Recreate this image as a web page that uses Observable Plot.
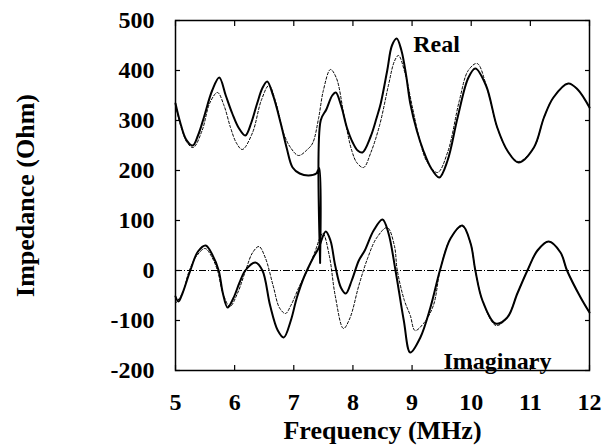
<!DOCTYPE html>
<html>
<head>
<meta charset="utf-8">
<script src="https://cdn.jsdelivr.net/npm/d3@7"></script>
<script src="https://cdn.jsdelivr.net/npm/@observablehq/plot@0.6"></script>
<style>
  html, body { margin: 0; padding: 0; background: #fff; }
  svg { display: block; }
</style>
</head>
<body>
<div id="chart"></div>
<script>
// ---- Data ----
const realSolidF = [5.0,5.08,5.18,5.29,5.38,5.48,5.62,5.74,5.85,5.96,6.07,6.18,6.28,6.38,6.47,6.55,6.65,6.78,6.88,6.98,7.1,7.25,7.38,7.43,7.445,7.455,7.55,7.65,7.71,7.8,7.9,8.0,8.08,8.16,8.3,8.4,8.47,8.58,8.66,8.74,8.82,8.9,8.97,9.08,9.19,9.32,9.46,9.6,9.77,9.95,10.07,10.25,10.44,10.62,10.8,11.06,11.23,11.39,11.64,11.8,12.0];
const realSolidV = [334,296,262,250,270,306,360,386,350,314,285,270,295,334,365,378,350,294,245,206,194,190,194,205,15,300,322,350,356,330,285,255,240,236,268,305,334,400,450,464,440,390,334,280,240,205,186,220,306,385,404,370,286,238,216,246,306,346,374,362,326];

const realDashF = [5.0,5.1,5.2,5.3,5.45,5.58,5.71,5.82,5.93,6.03,6.13,6.3,6.45,6.58,6.7,6.83,6.95,7.08,7.23,7.32,7.42,7.5,7.62,7.72,7.85,7.98,8.07,8.18,8.3,8.45,8.6,8.7,8.77,8.88,9.0,9.12,9.25,9.43,9.6,9.8,9.95,10.1,10.25,10.44,10.62,10.8,11.06,11.23,11.39,11.64,11.8,12.0];
const realDashV = [330,285,255,246,280,335,356,330,286,255,242,275,340,370,335,274,245,230,242,255,305,360,402,385,310,240,215,206,235,290,370,418,430,395,330,265,218,196,236,340,400,414,372,286,238,218,246,306,346,374,362,326];

const imagSolidF = [5.0,5.05,5.12,5.25,5.38,5.51,5.62,5.73,5.8,5.88,5.98,6.08,6.18,6.35,6.47,6.6,6.73,6.83,6.95,7.05,7.17,7.33,7.42,7.54,7.62,7.7,7.8,7.88,7.98,8.1,8.2,8.35,8.5,8.6,8.72,8.86,8.97,9.14,9.31,9.48,9.65,9.85,9.99,10.07,10.19,10.41,10.61,10.78,10.95,11.12,11.31,11.51,11.62,11.85,12.0];
const imagSolidV = [-52,-62,-45,0,38,50,32,0,-45,-74,-55,-25,0,16,0,-70,-120,-134,-100,-55,-14,26,45,78,60,10,-35,-46,-20,20,40,80,102,75,0,-100,-164,-134,-74,4,64,90,54,0,-60,-106,-94,-46,0,40,58,36,0,-54,-84];

const imagDashF = [5.0,5.12,5.22,5.35,5.5,5.6,5.71,5.8,5.92,6.05,6.2,6.3,6.41,6.52,6.65,6.76,6.86,6.95,7.1,7.23,7.35,7.49,7.6,7.7,7.84,7.95,8.1,8.25,8.4,8.58,8.7,8.75,8.87,8.97,9.05,9.2,9.36,9.48,9.65,9.85,9.99,10.07,10.19,10.42,10.61,10.78,10.95,11.12,11.31,11.51,11.62,11.85,12.0];
const imagDashV = [-66,-45,-5,28,44,30,0,-45,-72,-45,5,35,48,25,-30,-75,-86,-70,-30,0,35,74,30,-50,-116,-95,-30,25,65,86,50,0,-60,-90,-120,-105,-70,4,64,88,54,0,-60,-110,-94,-46,0,40,58,36,0,-54,-84];

const xTicks = [5,6,7,8,9,10,11,12];
const yTicks = [-200,-100,0,100,200,300,400,500];
const labelText = ["Real","Imaginary"];
const labelF = [9.02, 9.53];
const labelV = [452, -182];

// ---- Build tables ----
const toRows = (F, V) => F.map((f, i) => ({f, v: V[i]}));
const realSolid = toRows(realSolidF, realSolidV);
const realDash = toRows(realDashF, realDashV);
const imagSolid = toRows(imagSolidF, imagSolidV);
const imagDash = toRows(imagDashF, imagDashV);
const labels = labelText.map((t, i) => ({t, f: labelF[i], v: labelV[i]}));

const FONT = "'Liberation Serif', 'Times New Roman', serif";
const CURVE = "catmull-rom";

const chart = Plot.plot({
  width: 604,
  height: 446,
  marginLeft: 175,
  marginRight: 15,
  marginTop: 20,
  marginBottom: 76,
  style: {fontFamily: FONT, fontWeight: "bold", fontSize: "24px", color: "black", background: "white"},
  x: {domain: [5, 12]},
  y: {domain: [-200, 500]},
  marks: [
    // tick labels
    Plot.axisX({anchor: "bottom", ticks: xTicks, tickSize: 0, tickPadding: 22, label: null, fontSize: 24, tickFormat: d => String(d)}),
    Plot.axisY({anchor: "left", ticks: yTicks, tickSize: 0, tickPadding: 21, label: null, fontSize: 24, tickFormat: d => String(d)}),
    // inward tick marks
    Plot.axisX({anchor: "bottom", ticks: xTicks, tickSize: -5, tickFormat: () => "", label: null, strokeWidth: 1.2}),
    Plot.axisX({anchor: "top", ticks: xTicks, tickSize: -5, tickFormat: () => "", label: null, strokeWidth: 1.2}),
    Plot.axisY({anchor: "left", ticks: yTicks, tickSize: -5, tickFormat: () => "", label: null, strokeWidth: 1.2}),
    Plot.axisY({anchor: "right", ticks: yTicks, tickSize: -5, tickFormat: () => "", label: null, strokeWidth: 1.2}),
    // zero line (dash-dot)
    Plot.ruleY([0], {stroke: "black", strokeWidth: 1, strokeDasharray: "7,2,1,2"}),
    // curves
    Plot.line(realDash, {x: "f", y: "v", curve: CURVE, stroke: "black", strokeWidth: 1, strokeDasharray: "2.5,2"}),
    Plot.line(imagDash, {x: "f", y: "v", curve: CURVE, stroke: "black", strokeWidth: 1, strokeDasharray: "2.5,2"}),
    Plot.line(realSolid, {x: "f", y: "v", curve: CURVE, stroke: "black", strokeWidth: 2}),
    Plot.line(imagSolid, {x: "f", y: "v", curve: CURVE, stroke: "black", strokeWidth: 2}),
    // annotations
    Plot.text(labels, {x: "f", y: "v", text: "t", textAnchor: "start", fontSize: 24, fontWeight: "bold", fill: "black"}),
    // axis titles
    Plot.text(["Frequency (MHz)"], {frameAnchor: "bottom", dy: 60, fontSize: 26, fontWeight: "bold", fill: "black", textAnchor: "middle", lineAnchor: "middle"}),
    Plot.text(["Impedance (Ohm)"], {frameAnchor: "left", dx: -150, rotate: -90, fontSize: 26, fontWeight: "bold", fill: "black", textAnchor: "middle", lineAnchor: "middle"}),
    // frame
    Plot.frame({stroke: "black", strokeWidth: 1.5})
  ]
});
document.getElementById("chart").appendChild(chart);
</script>
</body>
</html>
